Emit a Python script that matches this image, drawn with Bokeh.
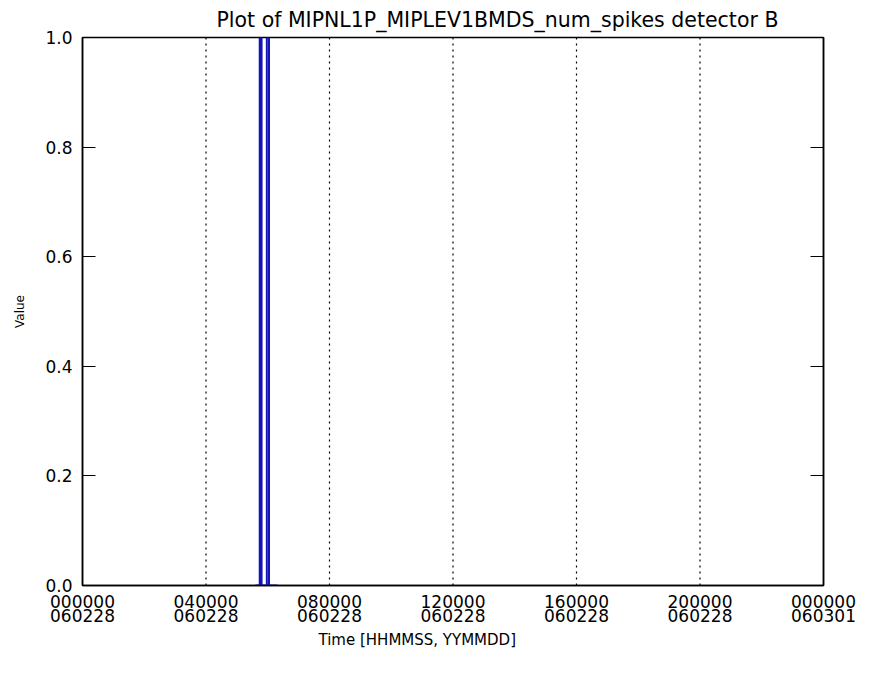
from bokeh.plotting import figure
from bokeh.models import Range1d, LinearAxis, FixedTicker, Span, Title
from bokeh.embed import file_html
from bokeh.resources import INLINE

# Data (time in hours since 000000 060228)
times = [5.60, 5.74, 5.74, 5.80, 5.80, 5.97, 5.97, 6.04, 6.04, 6.32]
values = [0, 0, 1, 1, 0, 0, 1, 1, 0, 0]

x_ticks = [0, 4, 8, 12, 16, 20, 24]
x_tick_labels = ["000000\n060228", "040000\n060228", "080000\n060228", "120000\n060228",
                 "160000\n060228", "200000\n060228", "000000\n060301"]
y_ticks = [0.0, 0.2, 0.4, 0.6, 0.8, 1.0]

FONT = "DejaVu Sans"

p = figure(width=857, height=648, output_backend="svg", toolbar_location=None,
           x_range=Range1d(0, 24), y_range=Range1d(0, 1),
           min_border_left=82, min_border_right=34, min_border_top=0, min_border_bottom=0)

p.add_layout(Title(text="Plot of MIPNL1P_MIPLEV1BMDS_num_spikes detector B",
                   align="left", offset=134, text_font=FONT, text_font_size="20.5px",
                   text_font_style="normal", text_color="black",
                   text_line_height=0.7, standoff=11), "above")

p.background_fill_color = "white"
p.border_fill_color = "white"
p.outline_line_color = "black"
p.outline_line_width = 1.5

p.grid.visible = False

# dotted vertical grid at interior ticks
for t in x_ticks[1:-1]:
    p.add_layout(Span(location=t, dimension="height", line_color="black",
                      line_dash="2 4", line_width=1.2))

p.line(times, values, line_color="#1414b4", line_width=2)

xa = p.xaxis[0]
xa.ticker = FixedTicker(ticks=x_ticks)
xa.major_label_overrides = {t: lab for t, lab in zip(x_ticks, x_tick_labels)}
xa.major_tick_in = 0
xa.major_tick_out = 0
xa.minor_tick_line_color = None
xa.axis_line_color = "black"
xa.axis_line_width = 1.5
xa.major_label_text_font = FONT
xa.major_label_text_font_size = "17px"
xa.major_label_text_line_height = 0.72
xa.major_label_text_color = "black"
xa.major_label_standoff = 6

p.add_layout(Title(text="Time [HHMMSS, YYMMDD]", align="left", offset=236,
                   text_font=FONT, text_font_size="15px", text_font_style="normal",
                   text_color="black", text_line_height=0.7, standoff=0), "below")

ya = p.yaxis[0]
ya.ticker = FixedTicker(ticks=y_ticks)
ya.major_label_overrides = {v: f"{v:.1f}" for v in y_ticks}
ya.major_tick_in = 13
ya.major_tick_out = 0
ya.minor_tick_line_color = None
ya.axis_line_width = 1.5
ya.major_label_text_font = FONT
ya.major_label_text_font_size = "17px"
ya.major_label_text_color = "black"
ya.major_label_standoff = 10
ya.axis_label = "Value"
ya.axis_label_text_font = FONT
ya.axis_label_text_font_size = "12px"
ya.axis_label_text_font_style = "normal"
ya.axis_label_text_color = "black"
ya.axis_label_standoff = 15

ra = LinearAxis(ticker=FixedTicker(ticks=y_ticks))
ra.major_tick_in = 13
ra.major_tick_out = 0
ra.minor_tick_line_color = None
ra.major_label_text_font_size = "0px"
ra.major_label_text_color = None
ra.axis_line_width = 1.5
p.add_layout(ra, "right")

open("out.html", "w").write(file_html(p, INLINE))
